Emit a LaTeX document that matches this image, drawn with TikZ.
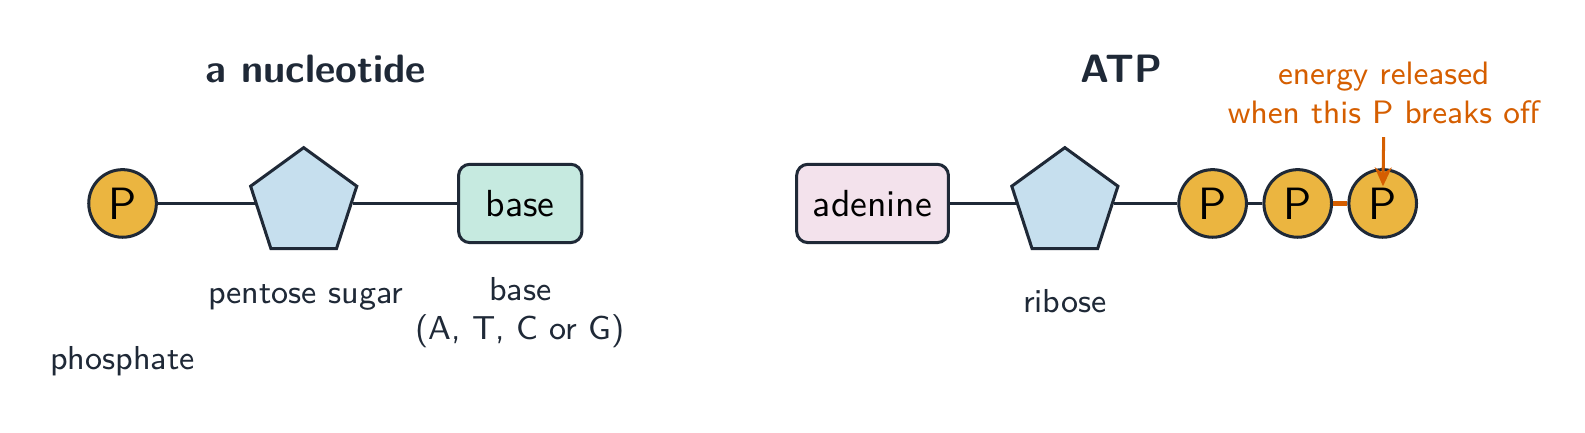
\documentclass[tikz,border=0pt]{standalone}
\usetikzlibrary{shapes.geometric,arrows.meta}
\renewcommand{\familydefault}{\sfdefault}
\definecolor{ink}{HTML}{1F2937}
\definecolor{sunny}{HTML}{EBB540}
\definecolor{sky}{HTML}{C6DFEE}
\definecolor{mint}{HTML}{C6EAE0}
\definecolor{blush}{HTML}{F3E2EC}
\definecolor{rust}{HTML}{D55E00}
\begin{document}
\begin{tikzpicture}[
  phos/.style={draw=ink, thick, circle, fill=sunny, minimum size=0.63cm, inner sep=0pt, font=\large},
  sugar/.style={draw=ink, thick, regular polygon, regular polygon sides=5, fill=sky, minimum size=1.04cm, inner sep=0pt},
  unit/.style={draw=ink, thick, rounded corners=3pt, minimum height=0.73cm},
  tag/.style={text=ink, font=\fontsize{8.8}{10.5}\selectfont, align=center},
  heading/.style={text=ink, font=\fontsize{10.5}{12}\selectfont\bfseries},
  bond/.style={ink, thick}]
\useasboundingbox (0,0) rectangle (14.77,4.026);
% nucleotide
\node[heading] (nuctitle) at (2.943,3.384) {a nucleotide};
\node[phos] (pp) at (1.142,2.130) {P};
\node[sugar] (sug) at (2.830,2.130) {};
\node[unit, fill=mint, minimum width=1.15cm] (base) at (4.848,2.130) {base};
\draw[bond] (pp) -- (sug);
\draw[bond] (sug) -- (base);
\node[tag] (phoslbl) at (1.142,0.659) {phosphate};
\node[tag] (suglbl) at (2.849,1.253) {pentose sugar};
\node[tag] (baselbl) at (4.848,1.111) {base\\(A, T, C or G)};
% ATP
\node[heading] (atptitle) at (10.451,3.384) {ATP};
\node[unit, fill=blush, minimum width=1.415cm] (aden) at (8.131,2.130) {adenine};
\node[sugar] (rib) at (9.923,2.130) {};
\node[phos] (p1) at (11.300,2.130) {P};
\node[phos] (p2) at (12.093,2.130) {P};
\node[phos] (p3) at (12.885,2.130) {P};
\draw[bond] (aden) -- (rib);
\draw[bond] (rib) -- (p1);
\draw[bond] (p1) -- (p2);
\draw[rust, very thick] (p2) -- (p3);
\node[tag] (riblbl) at (9.923,1.224) {ribose};
\node[tag, text=rust, font=\fontsize{8.6}{10.3}\selectfont] (note) at (12.894,3.159) {energy released\\when this P breaks off};
\draw[rust, thick, -{Stealth[length=5pt,width=4.5pt]}, shorten >=0.16cm] (note.south) -- (p3.center);
\end{tikzpicture}
\end{document}
